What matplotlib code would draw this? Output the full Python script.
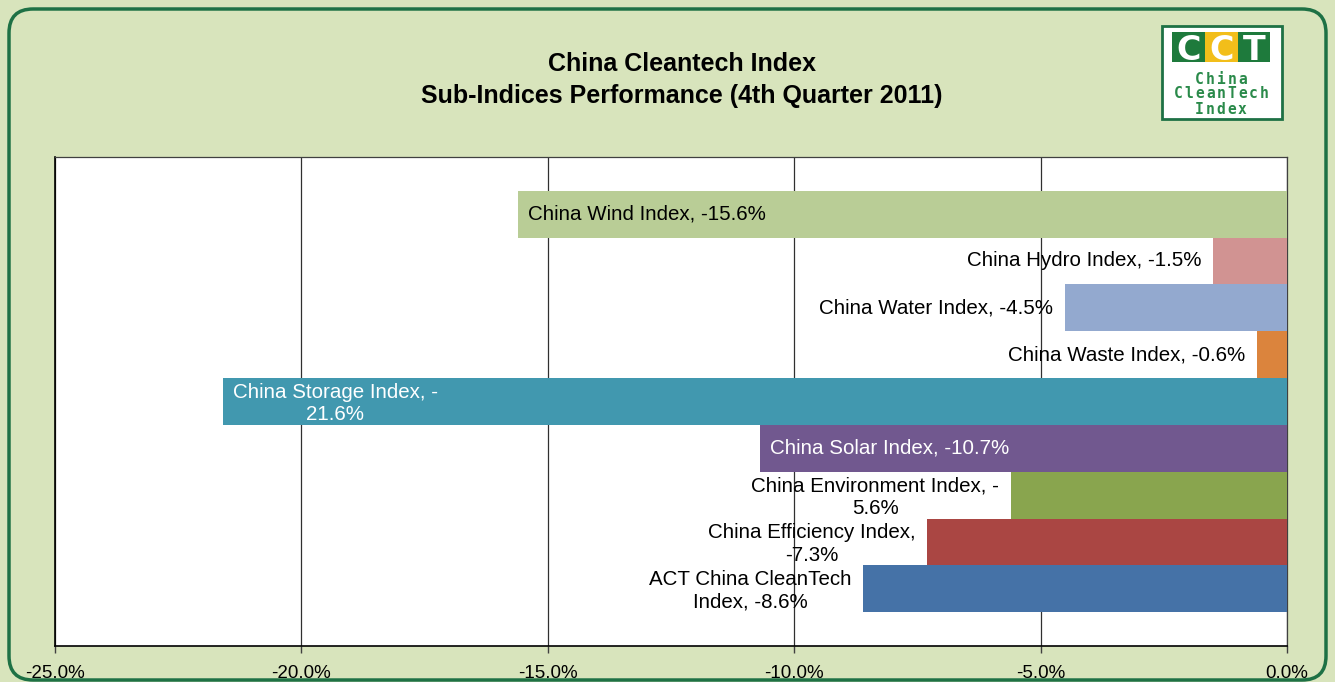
import matplotlib.pyplot as plt
import numpy as np
from matplotlib.patches import FancyBboxPatch, Rectangle
from matplotlib.ticker import FuncFormatter
import matplotlib.transforms as mtransforms

plt.rcParams['font.family'] = ['Liberation Sans', 'DejaVu Sans']

# Data (bottom to top, as in the original chart)
labels = ['ACT China CleanTech\nIndex, -8.6%',
          'China Efficiency Index,\n-7.3%',
          'China Environment Index, -\n5.6%',
          'China Solar Index, -10.7%',
          'China Storage Index, -\n21.6%',
          'China Waste Index, -0.6%',
          'China Water Index, -4.5%',
          'China Hydro Index, -1.5%',
          'China Wind Index, -15.6%']
values = [-8.6, -7.3, -5.6, -10.7, -21.6, -0.6, -4.5, -1.5, -15.6]
colors = ['#4572A7', '#AA4643', '#89A54E', '#71588F', '#4198AF',
          '#DB843D', '#93A9CF', '#D19392', '#B9CD96']
inside = [False, False, False, True, True, False, False, False, True]
text_colors = ['black', 'black', 'black', 'white', 'white',
               'black', 'black', 'black', 'black']
xticks = [-25, -20, -15, -10, -5, 0]

bg = '#D8E4BC'
dark_green = '#1E7145'

fig = plt.figure(figsize=(13.35, 6.82), dpi=100)
fig.patch.set_facecolor(bg)

# rounded outer border
W, H = 1335, 682
border = FancyBboxPatch((9 / W, 2 / H), 1317 / W, 671 / H,
                        boxstyle='round,pad=0,rounding_size=0.018',
                        transform=fig.transFigure, facecolor='none',
                        edgecolor=dark_green, linewidth=2.5,
                        mutation_aspect=W / H)
fig.patches.append(border)

ax = fig.add_axes([55 / W, 1 - 646 / H, 1232 / W, 489 / H])
ax.set_facecolor('white')

y = np.arange(len(values))
ax.barh(y, values, height=1.0, color=colors, zorder=3)

ax.set_xlim(-25, 0)
ax.set_ylim(-1.22, 9.22)
ax.set_xticks(xticks)
ax.xaxis.set_major_formatter(FuncFormatter(lambda v, p: f'{v:.1f}%'))
ax.set_yticks([])
ax.tick_params(axis='x', direction='out', length=5, width=1, color='#404040',
               labelsize=13.5, pad=9)
ax.grid(axis='x', color='#303030', linewidth=0.9, zorder=1)
for side in ['top', 'right']:
    ax.spines[side].set_color('#404040')
    ax.spines[side].set_linewidth(0.9)
for side in ['left', 'bottom']:
    ax.spines[side].set_color('black')
    ax.spines[side].set_linewidth(1.2)

# data labels
for yi, v, lab, ins, tc in zip(y, values, labels, inside, text_colors):
    dx = 10 if ins else -12
    dy = -2 if '\n' in lab else 0
    off = mtransforms.offset_copy(ax.transData, fig=fig, x=dx, y=dy, units='dots')
    ax.text(v, yi, lab, transform=off, ha='left' if ins else 'right',
            va='center', multialignment='center', fontsize=14.8, color=tc,
            zorder=4, linespacing=1.22)

# title
fig.text(682 / W, 1 - 80 / H, 'China Cleantech Index\nSub-Indices Performance (4th Quarter 2011)',
         ha='center', va='center', fontsize=18, fontweight='bold', linespacing=1.45)

# logo
fig.patches.append(Rectangle((1162 / W, 1 - 119 / H), 120 / W, 93 / H,
                             transform=fig.transFigure, facecolor='white',
                             edgecolor=dark_green, linewidth=2))
blocks = [(1172, 33, '#1E7A3C'), (1205, 33, '#F2BE1A'), (1238, 32, '#1E7A3C')]
for (x0, w, c), letter in zip(blocks, 'CCT'):
    fig.patches.append(Rectangle((x0 / W, 1 - 62 / H), w / W, 30 / H,
                                 transform=fig.transFigure, facecolor=c,
                                 edgecolor='none'))
    fig.text((x0 + w / 2) / W, 1 - 60 / H, letter, ha='center', va='baseline',
             fontsize=24, fontweight='bold', color='white', family='DejaVu Sans')
pitch = 10.7
for ty, t in zip([79, 94, 109], ['China', 'CleanTech', 'Index']):
    x_start = 1221 - pitch * (len(t) - 1) / 2
    for i, ch in enumerate(t):
        fig.text((x_start + i * pitch) / W, 1 - ty / H, ch, ha='center',
                 va='center', fontsize=10.5, fontweight='bold', color='#2A8A4A',
                 family='DejaVu Sans Mono')

plt.savefig('out.png', dpi=100, facecolor=bg)
